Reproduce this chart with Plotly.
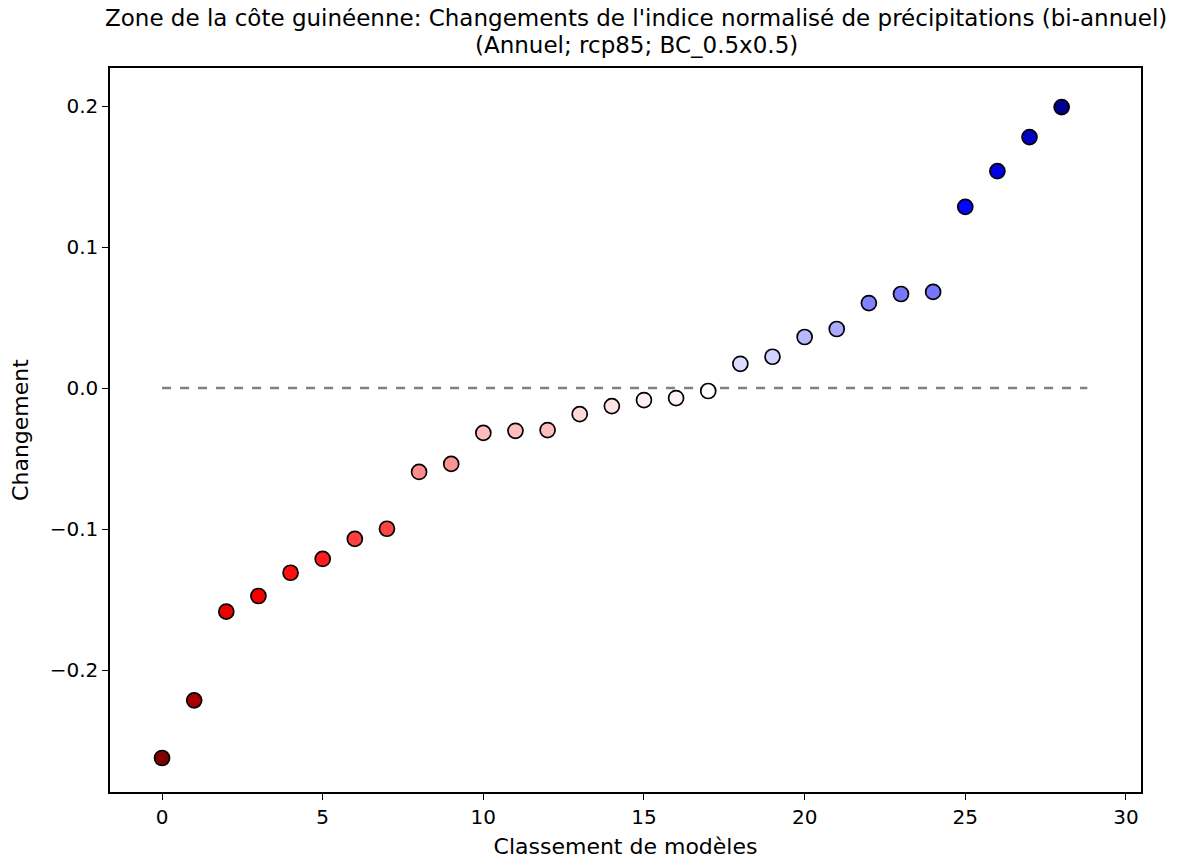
import plotly.graph_objects as go

ranks = list(range(29))
changes = [-0.2624, -0.2215, -0.1585, -0.1475, -0.1310, -0.1212, -0.1070, -0.0998,
           -0.0595, -0.0538, -0.0318, -0.0303, -0.0298, -0.0185, -0.0128, -0.0085,
           -0.0071, -0.0021, 0.0172, 0.0222, 0.0362, 0.0419, 0.0603, 0.0667,
           0.0682, 0.1285, 0.1538, 0.1780, 0.1993]
x_ticks = [0, 5, 10, 15, 20, 25, 30]
y_ticks = [-0.2, -0.1, 0.0, 0.1, 0.2]
y_tick_labels = ["\u22120.2", "\u22120.1", "0.0", "0.1", "0.2"]

title_line1 = "Zone de la côte guinéenne: Changements de l'indice normalisé de précipitations (bi-annuel)"
title_line2 = "(Annuel; rcp85; BC_0.5x0.5)"

marker_colors = ["#800000", "#a80000", "#ec0000", "#f40000", "#ff1010", "#ff1c1c",
                 "#ff4040", "#ff4444", "#ff8c8c", "#ff9292", "#ffbcbc", "#ffbebe",
                 "#ffbebe", "#ffd8d8", "#ffe4e4", "#fff0f0", "#fff2f2", "#ffffff",
                 "#dcdcff", "#d2d2ff", "#b8b8ff", "#aaaaff", "#8282ff", "#7878ff",
                 "#7676ff", "#0606ff", "#0000e2", "#0000c6", "#00008e"]

font_family = "DejaVu Sans"

fig = go.Figure()
fig.add_trace(go.Scatter(
    x=[0, 28.8], y=[0, 0], mode="lines",
    line=dict(color="#808080", width=2.4, dash="dash"),
    hoverinfo="skip", showlegend=False))
fig.add_trace(go.Scatter(
    x=ranks, y=changes, mode="markers",
    marker=dict(size=15, color=marker_colors, line=dict(color="black", width=1.7)),
    showlegend=False))

fig.update_layout(
    width=1177, height=851,
    margin=dict(l=102, r=44, t=60, b=67),
    paper_bgcolor="white", plot_bgcolor="white",
    font=dict(family=font_family, size=20, color="black"),
)
fig.add_annotation(text=title_line1, xref="paper", yref="paper", x=0.5102, y=1.069,
                   xanchor="center", yanchor="middle", showarrow=False,
                   font=dict(size=23))
fig.add_annotation(text=title_line2, xref="paper", yref="paper", x=0.5102, y=1.0318,
                   xanchor="center", yanchor="middle", showarrow=False,
                   font=dict(size=23))
fig.update_xaxes(range=[-1.62, 30.47], tickvals=x_ticks, ticks="outside", ticklen=6,
                 tickwidth=1.3, tickcolor="black", showline=True, linecolor="black",
                 linewidth=1.5, mirror=True, showgrid=False, zeroline=False,
                 automargin=False,
                 title=dict(text="Classement de modèles", font=dict(size=22), standoff=12))
fig.update_yaxes(range=[-0.2865, 0.227], tickvals=y_ticks, ticktext=y_tick_labels,
                 ticks="outside", ticklen=6, tickwidth=1.3, tickcolor="black",
                 showline=True, linecolor="black", linewidth=1.5, mirror=True,
                 showgrid=False, zeroline=False, automargin=False,
                 title=dict(text="Changement", font=dict(size=22), standoff=15))

fig.write_html("out.html")
